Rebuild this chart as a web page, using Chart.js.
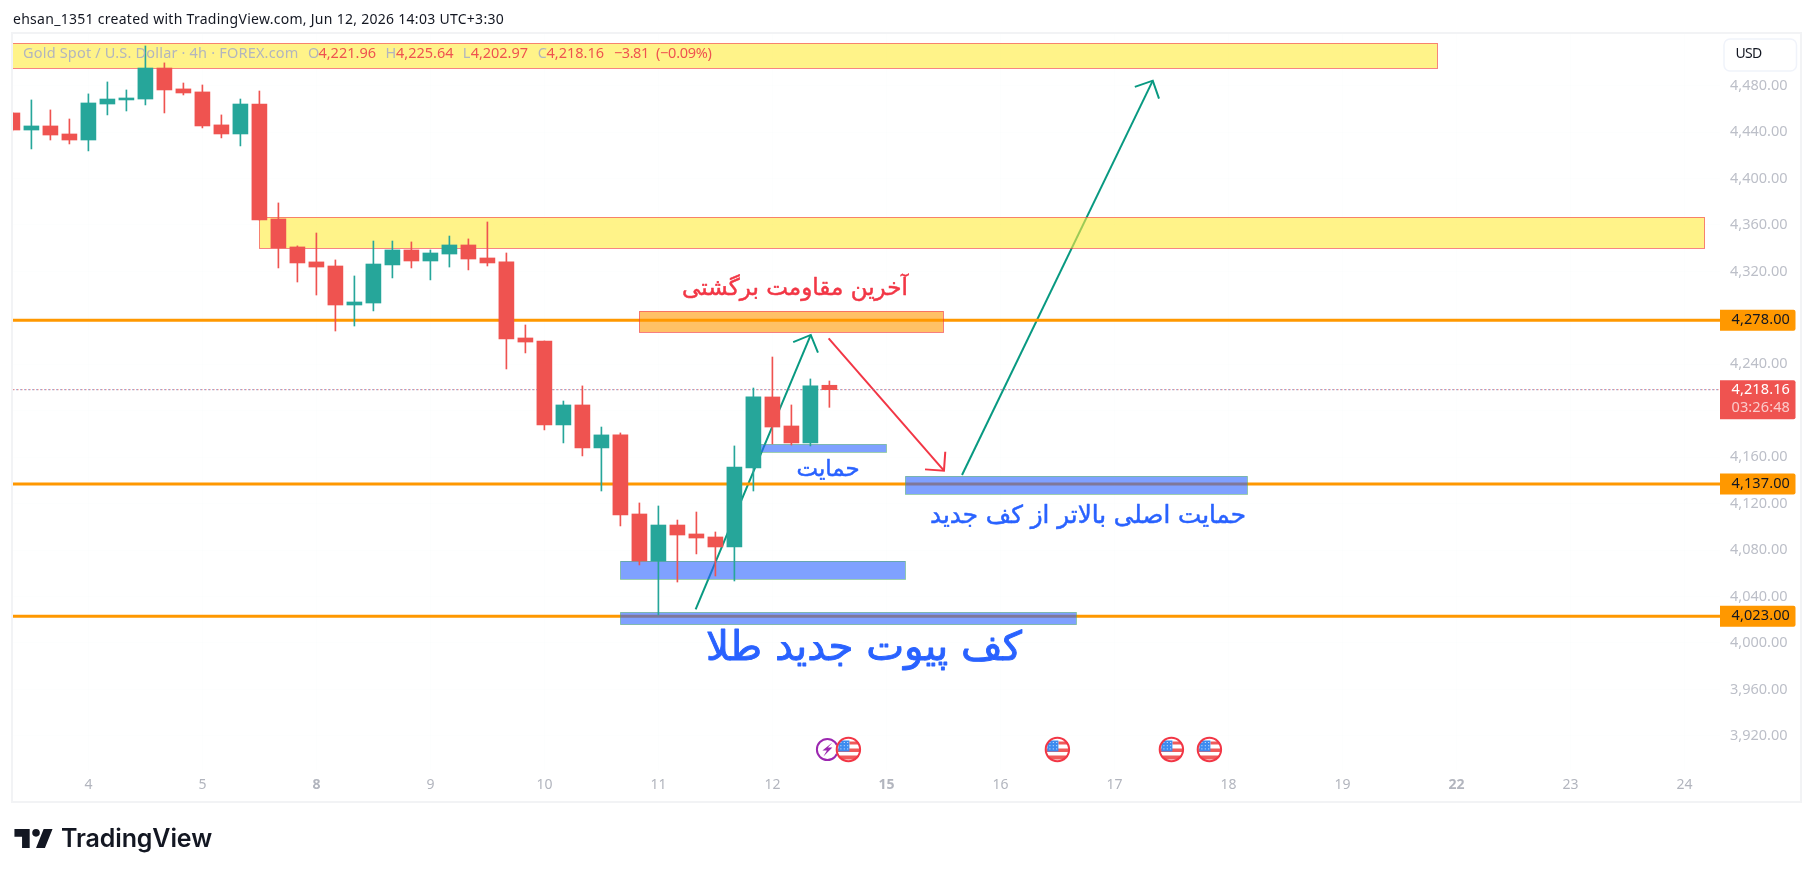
<!DOCTYPE html>
<html><head><meta charset="utf-8">
<style>html,body{margin:0;padding:0;background:#fff;overflow:hidden}canvas{display:block}</style>
<script src="https://cdn.jsdelivr.net/npm/chart.js@4"></script>
</head><body><canvas id="c" width="1814" height="877"></canvas>
<script>
const openP=[4456.5,4441.8,4445.3,4438.4,4433.2,4464.2,4467.7,4468.5,4495.2,4477.2,4474.6,4446.2,4438.4,4464.2,4365.2,4341.1,4328.2,4324.7,4291.1,4292.8,4325.6,4338.5,4329,4335,4342.8,4331.6,4328.2,4262.7,4260.1,4187.8,4205,4168,4179.2,4111.1,4070.6,4101.6,4093.9,4091.3,4082.7,4150.7,4211.9,4186.9,4172.3,4221.96];
const highP=[4457,4467.7,4459.1,4451.3,4472.9,4483.2,4476.3,4514.2,4499.6,4482.3,4480.6,4454.8,4468.5,4475.4,4379,4342,4353.1,4329.9,4316.1,4346.2,4346.2,4345.4,4338.5,4350.5,4348,4362.6,4335.9,4273.9,4260.1,4208.4,4221.4,4186,4180.9,4120.6,4118,4105.9,4112.8,4095.6,4169.7,4219.6,4246.3,4205,4227.4,4225.64];
const lowP=[4441,4425.5,4433.2,4429.8,4423.8,4454.8,4458.2,4463.4,4456.5,4472,4443.6,4435,4428.1,4364.3,4323,4310.9,4299.7,4268.7,4273,4286,4314.4,4323,4312.7,4323.8,4321.3,4324.7,4236,4249.8,4183.5,4172.3,4161.1,4130.9,4100.8,4067.2,4024.1,4052.5,4076.7,4057.7,4053.4,4130.9,4171.4,4170.5,4169.7,4202.97];
const closeP=[4441.8,4445.3,4437.5,4433.2,4465.1,4468.5,4469.4,4495.2,4476.3,4473.7,4445.3,4438.4,4464.2,4364.3,4340.2,4327.3,4323.8,4291.1,4293.7,4326.4,4338.5,4329,4335.9,4342.8,4330.7,4327.3,4261.8,4259.2,4187.8,4205,4168,4179.2,4110.2,4070.6,4101.6,4093,4090.4,4082.7,4151.6,4211.9,4186,4172.3,4221.4,4218.16];
const priceTicks=[3920,3960,4000,4040,4080,4120,4160,4200,4240,4280,4320,4360,4400,4440,4480];
const dayTicks=[4,10,16,22,28,34,40,46,52,58,64,70,76,82,88];
const dayLabels=['4','5','8','9','10','11','12','15','16','17','18','19','22','23','24'];
const weekStarts=['8','15','22'];
const levels=[4278,4137,4023];
const lastPrice=4218.16;
const eventBars=[44,55,61,63];
const flashBars=[43];
const yellowZones=[[-1,75,4495,4516.5],[13,89.07,4340,4366.7]];
const orangeZones=[[33,49,4267.6,4285.7]];
const blueZones=[[39,46,4164.3,4171.1],[47,65,4128.1,4143.6],[32,47,4054.9,4070.6],[32,56,4015.8,4026.4]];
const tealArrows=[[35.96,4029,42.02,4265.3],[49.98,4144.7,60.02,4484.3]];
const redArrows=[[42.96,4262.4,49.03,4148.4]];

const UP='#26a69a',DOWN='#ef5350',F='"Noto Sans"',AR='"DejaVu Sans"';
const colors=openP.map((o,i)=>closeP[i]>=o?UP:DOWN);
const money=v=>v.toLocaleString('en-US',{minimumFractionDigits:2,maximumFractionDigits:2});

function lineDs(pts,color,width,extra){return Object.assign({type:'line',data:pts,borderColor:color,borderWidth:width,pointRadius:0,tension:0,order:5,borderCapStyle:'butt'},extra||{});}
const datasets=[
 {type:'bar',label:'body',data:openP.map((o,i)=>({x:i,y:[o,closeP[i]]})),backgroundColor:colors,barThickness:15,grouped:false,order:1,borderSkipped:false},
 {type:'bar',label:'wick',data:highP.map((h,i)=>({x:i,y:[lowP[i],h]})),backgroundColor:colors,barThickness:1,grouped:false,order:2,borderSkipped:false},
];
levels.forEach(v=>datasets.push(lineDs([{x:-1,y:v},{x:91,y:v}],'#ff9800',3)));
datasets.push(lineDs([{x:-1,y:lastPrice},{x:91,y:lastPrice}],'#ef5350',1,{borderDash:[1,3]}));
datasets.push(lineDs([{x:-1,y:lastPrice},{x:91,y:lastPrice}],'#3f7fd0',1,{borderDash:[1,3],borderDashOffset:1}));
tealArrows.forEach(a=>datasets.push(lineDs([{x:a[0],y:a[1]},{x:a[2],y:a[3]}],'#089981',2)));
redArrows.forEach(a=>datasets.push(lineDs([{x:a[0],y:a[1]},{x:a[2],y:a[3]}],'#f23645',2)));

function fit(ctx,t,x,y,w,font,color){ctx.font=font;ctx.fillStyle=color;ctx.textAlign='left';ctx.textBaseline='middle';ctx.direction='ltr';
 ctx.letterSpacing='0px';const m=ctx.measureText(t).width;ctx.letterSpacing=((w-m)/t.length).toFixed(3)+'px';ctx.fillText(t,x,y);ctx.letterSpacing='0px';}
function fa(ctx,t,cx,cy,w,color,bold){ctx.font='20px '+AR;ctx.letterSpacing='0px';ctx.direction='rtl';const m=ctx.measureText(t).width;const s=20*w/m;ctx.font=s.toFixed(2)+'px '+AR;ctx.fillStyle=color;ctx.textAlign='center';ctx.textBaseline='middle';
 ctx.strokeStyle=color;ctx.lineWidth=bold;ctx.lineJoin='round';ctx.strokeText(t,cx,cy);ctx.fillText(t,cx,cy);ctx.direction='ltr';}
function zone(ctx,c,z,fill,stroke){const x=c.scales.x,y=c.scales.y;const x0=x.getPixelForValue(z[0]),x1=x.getPixelForValue(z[1]),y0=y.getPixelForValue(z[3]),y1=y.getPixelForValue(z[2]);
 ctx.fillStyle=fill;ctx.fillRect(x0,y0,x1-x0,y1-y0);ctx.strokeStyle=stroke;ctx.lineWidth=1;ctx.strokeRect(Math.round(x0)+.5,Math.round(y0)+.5,Math.round(x1-x0),Math.round(y1-y0));}
function head(ctx,c,a,color){const x=c.scales.x,y=c.scales.y;const sx=x.getPixelForValue(a[0]),sy=y.getPixelForValue(a[1]),ex=x.getPixelForValue(a[2]),ey=y.getPixelForValue(a[3]);
 const t=Math.atan2(sy-ey,sx-ex);ctx.strokeStyle=color;ctx.lineWidth=2;ctx.lineCap='butt';ctx.beginPath();
 ctx.moveTo(ex+19*Math.cos(t+Math.PI/4),ey+19*Math.sin(t+Math.PI/4));ctx.lineTo(ex,ey);ctx.lineTo(ex+19*Math.cos(t-Math.PI/4),ey+19*Math.sin(t-Math.PI/4));ctx.stroke();}
function tag(ctx,top,h,color){ctx.fillStyle=color;ctx.beginPath();ctx.roundRect(1720,top,75.5,h,[0,2,2,0]);ctx.fill();}
function flag(ctx,cx,cy){ctx.save();ctx.beginPath();ctx.arc(cx,cy,12.5,0,Math.PI*2);ctx.fillStyle='#fff';ctx.fill();ctx.clip();
 ctx.fillStyle='#f05a5a';ctx.fillRect(cx-11,cy-1,22,3.5);ctx.fillRect(cx-11,cy+6,22,4);ctx.fillRect(cx+1,cy-8,10,3);
 ctx.fillStyle='#3d8bef';ctx.fillRect(cx-10,cy-9,11,11);ctx.fillStyle='#d8e8ff';for(let i=0;i<3;i++)for(let j=0;j<3;j++)ctx.fillRect(cx-8+i*3.4,cy-7.5+j*3.2,1,1);
 ctx.restore();ctx.strokeStyle='#f23645';ctx.lineWidth=2;ctx.beginPath();ctx.arc(cx,cy,11.7,0,Math.PI*2);ctx.stroke();}
function flash(ctx,cx,cy){ctx.fillStyle='#fff';ctx.strokeStyle='#9c27b0';ctx.lineWidth=2;ctx.beginPath();ctx.arc(cx,cy,10.5,0,Math.PI*2);ctx.fill();ctx.stroke();
 ctx.fillStyle='#9c27b0';ctx.beginPath();ctx.moveTo(cx+5,cy-7);ctx.lineTo(cx-5,cy+1);ctx.lineTo(cx-.5,cy+1);ctx.lineTo(cx-4,cy+7);ctx.lineTo(cx+5,cy-2);ctx.lineTo(cx+.5,cy-2);ctx.closePath();ctx.fill();}

const decor={id:'decor',
 beforeDatasetDraw(c,args){ if(args.meta.label!=='wick')return; const ctx=c.ctx,a=c.chartArea;
  tealArrows.forEach(v=>head(ctx,c,v,'#089981'));redArrows.forEach(v=>head(ctx,c,v,'#f23645'));
  ctx.save();ctx.beginPath();ctx.rect(a.left,a.top,a.right-a.left,a.bottom-a.top);ctx.clip();
  yellowZones.forEach(z=>zone(ctx,c,z,'rgba(255,235,59,.6)','rgba(242,54,69,.6)'));
  orangeZones.forEach(z=>zone(ctx,c,z,'rgba(255,152,0,.6)','rgba(242,54,69,.6)'));
  blueZones.forEach(z=>zone(ctx,c,z,'rgba(41,98,255,.6)','rgba(76,175,80,.45)'));
  ctx.restore();},
 afterDraw(c){const ctx=c.ctx,x=c.scales.x,y=c.scales.y;ctx.save();
  ctx.fillStyle='#f2f3f5';ctx.fillRect(11,32,1791,2);ctx.fillRect(11,801,1791,2);ctx.fillRect(11,32,2,771);ctx.fillRect(1800,32,2,771);
  fit(ctx,'ehsan_1351 created with TradingView.com, Jun 12, 2026 14:03 UTC+3:30',13,20,491,'14px '+F,'#131722');
  const g='#b2b5be',r='#ef5350',lf='14.5px '+F;
  fit(ctx,'Gold Spot / U.S. Dollar · 4h · FOREX.com',23,54,275.5,lf,g);
  [['O',308,9,g],['4,221.96',318.4,57.6,r],['H',385.4,9.5,g],['4,225.64',396,57.5,r],['L',462.7,7,g],['4,202.97',470.7,57.3,r],['C',537.7,8,g],['4,218.16',546.5,57.5,r],['−3.81',614,34.7,r],['(−0.09%)',656,55.7,r]].forEach(s=>fit(ctx,s[0],s[1],54,s[2],lf,s[3]));
  ctx.fillStyle='#fff';ctx.strokeStyle='#f0f3fa';ctx.lineWidth=1.5;ctx.beginPath();ctx.roundRect(1724,39,72.5,32,6);ctx.fill();ctx.stroke();
  fit(ctx,'USD',1735.5,54.5,26,'14px '+F,'#131722');
  levels.forEach(v=>{const p=y.getPixelForValue(v);tag(ctx,p-10.5,21,'#ff9800');fit(ctx,money(v),1731.5,p,58.5,'14.5px '+F,'#131722');});
  const lp=y.getPixelForValue(lastPrice);tag(ctx,lp-9.5,39,'#ef5350');
  fit(ctx,money(lastPrice),1731.5,lp,58.5,'14.5px '+F,'#ffffff');
  fit(ctx,'03:26:48',1731.5,lp+18,58.5,'14.5px '+F,'rgba(255,255,255,.7)');
  flashBars.forEach(b=>flash(ctx,x.getPixelForValue(b)-2,749.5));
  eventBars.forEach(b=>flag(ctx,x.getPixelForValue(b),749.5));
  fa(ctx,'آخرین مقاومت برگشتی',795,289,226,'#f23645',.5);
  fa(ctx,'حمایت',828,470,63,'#2962ff',.5);
  fa(ctx,'حمایت اصلی بالاتر از کف جدید',1088,517,316,'#2962ff',.5);
  fa(ctx,'کف پیوت جدید طلا',864,650,316,'#2962ff',.9);
  ctx.save();ctx.translate(11.9,821.4);ctx.scale(1.27,1.27);ctx.fillStyle='#131722';ctx.fill(new Path2D('M14 6H2v6h6v9h6V6Zm12 15h-7l6-15h7l-6 15Zm-7-9a3 3 0 1 0 0-6 3 3 0 0 0 0 6Z'));ctx.restore();
  fit(ctx,'TradingView',61,839,151,'600 25px Inter','#131722');
  ctx.restore();}
};
new Chart(document.getElementById('c'),{type:'bar',data:{datasets},plugins:[decor],options:{responsive:false,animation:false,devicePixelRatio:1,
 layout:{padding:{left:13,top:34,right:14,bottom:76}},
 plugins:{legend:{display:false},tooltip:{enabled:false}},events:[],
 scales:{
  x:{type:'linear',position:'bottom',offset:false,min:0.0316,max:89.874,grid:{color:'rgba(240,243,250,.12)',drawTicks:false,offset:false},border:{display:false},
   afterBuildTicks:a=>{a.ticks=dayTicks.map(v=>({value:v}));},afterFit:a=>{a.height=31;},
   ticks:{padding:7,autoSkip:false,maxRotation:0,color:'#b2b5be',callback:(v)=>dayLabels[dayTicks.indexOf(v)],
    font:ctx=>({family:F,size:14,weight:weekStarts.includes(dayLabels[ctx.index])?'700':'400'})}},
  y:{type:'linear',position:'right',min:3890.6,max:4524.5,grid:{color:'rgba(240,243,250,.12)',drawTicks:false},border:{display:false},
   afterBuildTicks:a=>{a.ticks=priceTicks.map(v=>({value:v}));},afterFit:a=>{a.width=80;},
   ticks:{padding:10,autoSkip:false,color:'#bcbfc8',font:{family:F,size:14.5},callback:v=>money(v)}}
 }}});
</script></body></html>
